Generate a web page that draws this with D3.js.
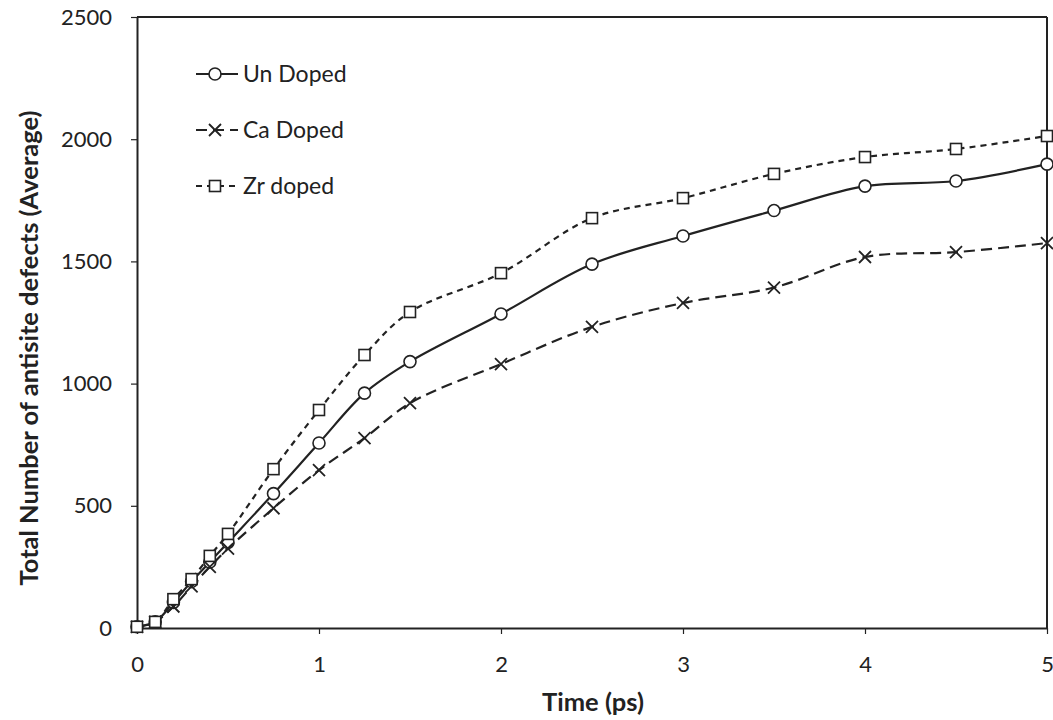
<!DOCTYPE html>
<html>
<head>
<meta charset="utf-8">
<script src="https://cdn.jsdelivr.net/npm/d3@7"></script>
<style>
  body { margin: 0; background: #fff; }
  text { font-family: Lato, "Open Sans", sans-serif; fill: #222; }
</style>
</head>
<body>
<div id="chart-area"></div>
<script>
// time points (ps)
var times = [0, 0.1, 0.2, 0.3, 0.4, 0.5, 0.75, 1, 1.25, 1.5, 2, 2.5, 3, 3.5, 4, 4.5, 5];
var unDoped = [5, 25, 105, 190, 270, 350, 550, 757, 961, 1090, 1285, 1489, 1604, 1708, 1808, 1829, 1898];
var caDoped = [5, 25, 88, 170, 250, 325, 490, 646, 777, 920, 1080, 1232, 1330, 1393, 1518, 1538, 1575];
var zrDoped = [5, 25, 118, 200, 295, 385, 650, 892, 1117, 1293, 1452, 1677, 1759, 1858, 1927, 1960, 2013];
var seriesNames = ["Un Doped", "Ca Doped", "Zr doped"];
var xTicks = [0, 1, 2, 3, 4, 5];
var yTicks = [0, 500, 1000, 1500, 2000, 2500];

var margin = { left: 137, right: 6, top: 17, bottom: 92 };
var W = 1053, H = 720;
var width = W - margin.left - margin.right;
var height = H - margin.top - margin.bottom;
var ink = "#222";

var svg = d3.select("#chart-area").append("svg")
    .attr("width", W)
    .attr("height", H);

var g = svg.append("g")
    .attr("transform", "translate(" + margin.left + "," + margin.top + ")");

var x = d3.scaleLinear().domain([0, 5]).range([0, width]);
var y = d3.scaleLinear().domain([0, 2500]).range([height, 0]);

// axes
var xAxis = g.append("g")
    .attr("transform", "translate(0," + height + ")")
    .call(d3.axisBottom(x).tickValues(xTicks).tickFormat(d3.format("d"))
        .tickSize(6).tickSizeOuter(0).tickPadding(22));
var yAxis = g.append("g")
    .call(d3.axisLeft(y).tickValues(yTicks).tickFormat(d3.format("d"))
        .tickSize(6).tickSizeOuter(0).tickPadding(19));

[xAxis, yAxis].forEach(function(a){
    a.select(".domain").attr("stroke", ink).attr("stroke-width", 2);
    a.selectAll(".tick line").attr("stroke", ink).attr("stroke-width", 1.2);
    a.selectAll("text").attr("font-size", "22px").attr("fill", ink)
        .attr("font-family", "Lato, sans-serif");
});

// frame top and right
g.append("line").attr("x1", 0).attr("x2", width).attr("y1", 0).attr("y2", 0)
    .attr("stroke", ink).attr("stroke-width", 2);
g.append("line").attr("x1", width).attr("x2", width).attr("y1", 0).attr("y2", height)
    .attr("stroke", ink).attr("stroke-width", 2);

// axis titles
svg.append("text")
    .attr("x", 593)
    .attr("y", 711)
    .attr("text-anchor", "middle")
    .attr("font-size", "25.5px")
    .attr("font-weight", "bold")
    .text("Time (ps)");

svg.append("text")
    .attr("transform", "translate(38,348) rotate(-90)")
    .attr("text-anchor", "middle")
    .attr("font-size", "25.5px")
    .attr("font-weight", "bold")
    .text("Total Number of antisite defects (Average)");

var series = [
    { name: seriesNames[0], values: unDoped, dash: null, marker: "circle" },
    { name: seriesNames[1], values: caDoped, dash: "11,6", marker: "cross" },
    { name: seriesNames[2], values: zrDoped, dash: "6,5", marker: "square" }
];

var line = d3.line()
    .x(function(d){ return x(d.t); })
    .y(function(d){ return y(d.v); })
    .curve(d3.curveCatmullRom.alpha(0.5));

function drawMarker(sel, type) {
    if (type === "circle") {
        sel.append("circle").attr("r", 6)
            .attr("fill", "#fff").attr("stroke", ink).attr("stroke-width", 1.6);
    } else if (type === "square") {
        sel.append("rect").attr("x", -5.5).attr("y", -5.5).attr("width", 11).attr("height", 11)
            .attr("fill", "#fff").attr("stroke", ink).attr("stroke-width", 1.6);
    } else {
        sel.append("path").attr("d", "M-6,-6L6,6M-6,6L6,-6")
            .attr("fill", "none").attr("stroke", ink).attr("stroke-width", 1.8);
    }
}

series.forEach(function(s){
    var pts = times.map(function(t, i){ return { t: t, v: s.values[i] }; });
    g.append("path")
        .datum(pts)
        .attr("fill", "none")
        .attr("stroke", ink)
        .attr("stroke-width", 2.2)
        .attr("stroke-dasharray", s.dash)
        .attr("d", line);
    g.selectAll(null)
        .data(pts)
        .enter()
        .append("g")
            .attr("transform", function(d){ return "translate(" + x(d.t) + "," + y(d.v) + ")"; })
            .each(function(){ drawMarker(d3.select(this), s.marker); });
});

// legend
var legend = svg.append("g").attr("transform", "translate(196,74)");
series.forEach(function(s, i){
    var row = legend.append("g").attr("transform", "translate(0," + (i * 56) + ")");
    row.append("line").attr("x1", 0).attr("x2", 42).attr("y1", 0).attr("y2", 0)
        .attr("stroke", ink).attr("stroke-width", 2)
        .attr("stroke-dasharray", s.dash);
    var m = row.append("g").attr("transform", "translate(19,0)");
    drawMarker(m, s.marker);
    row.append("text")
        .attr("x", 47)
        .attr("y", 8)
        .attr("font-size", "23px")
        .text(s.name);
});
</script>
</body>
</html>
